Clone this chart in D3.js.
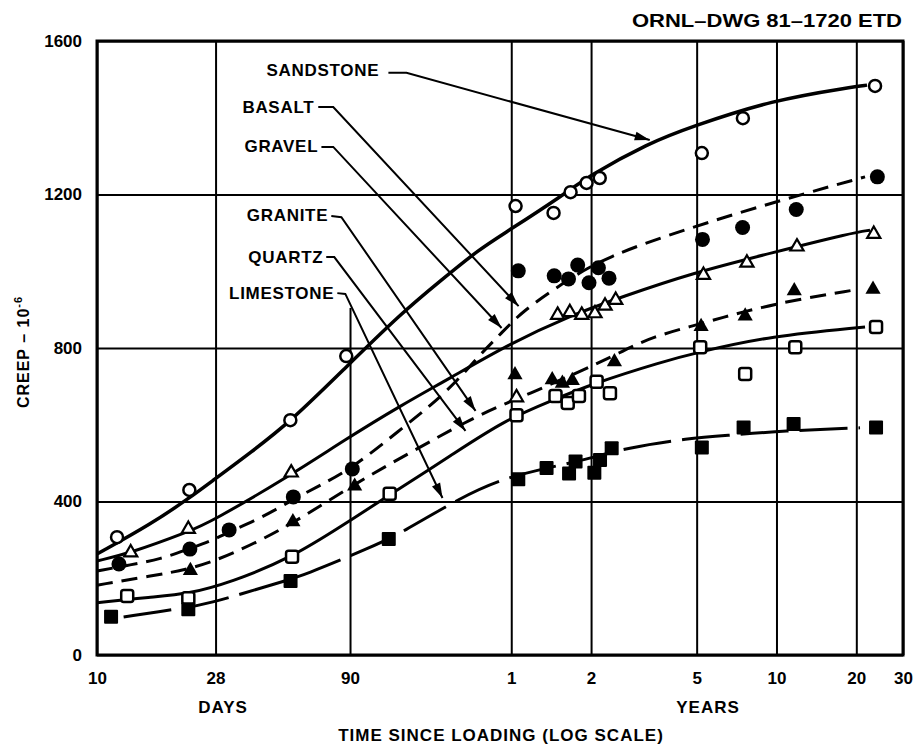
<!DOCTYPE html>
<html>
<head>
<meta charset="utf-8">
<script src="https://cdn.jsdelivr.net/npm/d3@7"></script>
<style>
body { margin: 0; background: #fff; }
text { font-family: "Liberation Sans", Arial, sans-serif; font-weight: bold; fill: #000; }
</style>
</head>
<body>
<script>
var w = 920;
var h = 745;

// time since loading in days, creep in 10^-6
var xTicks = [10, 28, 90, 365, 730, 1826, 3652, 7305, 10957];
var xTickLabels = ['10', '28', '90', '1', '2', '5', '10', '20', '30'];
var yTicks = [0, 400, 800, 1200, 1600];
var partialGridTop = 904; // the 90 day line stops here

// measured points
var sandstonePts = [[11.9,307],[22.3,430],[53.6,612],[87.1,779],[379,1170],[527,1152],[611,1206],[702,1230],[787,1243],[1910,1308],[2728,1399],[8596,1483]];
var basaltPts = [[12.1,237],[22.4,276],[31.5,326],[55,412],[91.8,485],[388,1001],[530,988],[600,980],[650,1016],[717,970],[778,1009],[853,982],[1921,1083],[2721,1114],[4336,1161],[8770,1246]];
var gravelPts = [[13.4,267],[22.1,328],[54,475],[382,671],[546,886],[607,893],[673,886],[755,890],[824,910],[904,925],[1937,990],[2825,1022],[4363,1064],[8500,1097]];
var granitePts = [[22.5,220],[54.8,347],[93.7,440],[377,730],[521,717],[569,708],[620,715],[894,764],[1898,856],[2783,883],[4262,949],[8446,953]];
var quartzPts = [[13,154],[22.1,148],[54.4,256],[127,420],[382,625],[536,675],[596,657],[657,675],[766,712],[860,682],[1883,802],[2783,732],[4299,802],[8670,855]];
var limestonePts = [[11.3,100],[22.1,119],[53.7,193],[126,302],[388,458],[496,487],[603,473],[638,504],[751,475],[789,508],[873,539],[1910,541],[2745,593],[4238,602],[8670,593]];

// fitted curves as drawn
var sandstoneCurve = [[10,263],[16,341],[22.6,412],[26.9,451],[38.2,529],[54,610],[84.9,743],[140.6,891],[199,977],[277,1058],[350,1102],[580,1201],[715,1248],[1204,1334],[1736,1376],[3510,1446],[7038,1480],[8017,1485]];
var basaltCurve = [[10,219],[13.4,235],[17.4,250],[22.1,276],[26.9,297],[31.5,321],[41.6,357],[54.5,404],[72,448],[91.8,487],[140.6,589],[211.6,688],[274.8,779],[335.6,839],[399.3,894],[565.4,967],[821.6,1037],[1751,1115],[3828,1186],[7880,1246]];
var gravelCurve = [[10,245],[13.4,266],[22.1,321],[26.9,347],[54,469],[85.7,560],[140.6,651],[211.6,719],[356.6,810],[616.6,886],[952.6,933],[1751,995],[3510,1048],[7038,1100],[8229,1107]];
var graniteCurve = [[10,182],[16,206],[22.6,224],[32.1,261],[54,339],[93.4,446],[153.4,529],[251.8,612],[335.6,651],[416.9,678],[655.3,737],[952.6,790],[1236,829],[1893,863],[2776,896],[4251,925],[7161,951]];
var quartzCurve = [[10,136],[16,151],[22.1,159],[32.1,190],[54,253],[84.9,339],[128.9,420],[217.3,521],[344.4,612],[527.4,665],[733.9,706],[1349,764],[1877,790],[3450,831],[7880,855]];
var limestoneCurve = [[12.6,99],[20.8,122],[25.4,130],[48.3,188],[60.5,208],[108.3,281],[140.6,318],[237,412],[344.4,461],[496,487],[733.9,513],[977.7,539],[1706,565],[2480,573],[3828,584],[7544,592]];

// labels and their leader arrows
var labelNames = ['SANDSTONE', 'BASALT', 'GRAVEL', 'GRANITE', 'QUARTZ', 'LIMESTONE'];
var labelEnds = [[116,1522],[66,1428],[68.3,1324],[74.5,1144],[71.4,1037],[78.5,943]];
var leaders = [
    [[125.6,1517],[146.9,1517],[1215,1342]],
    [[68.3,1428],[77.8,1428],[389,909]],
    [[70.2,1324],[77.8,1324],[335.6,852]],
    [[76.5,1144],[83.5,1141],[267.7,636]],
    [[73.2,1037],[78.5,1037],[245.3,584]],
    [[80.6,943],[86.4,941],[200.9,409]]
];

var series = [
    {pts: sandstonePts, curve: sandstoneCurve, shape: 'circle', filled: false, width: 3.5, dash: null},
    {pts: basaltPts, curve: basaltCurve, shape: 'circle', filled: true, width: 3, dash: '16,9'},
    {pts: gravelPts, curve: gravelCurve, shape: 'triangle', filled: false, width: 3, dash: null},
    {pts: granitePts, curve: graniteCurve, shape: 'triangle', filled: true, width: 3, dash: '16,9'},
    {pts: quartzPts, curve: quartzCurve, shape: 'square', filled: false, width: 3, dash: null},
    {pts: limestonePts, curve: limestoneCurve, shape: 'square', filled: true, width: 3, dash: '48,11'}
];

var x = d3.scaleLog().domain([10, 10957]).range([97, 903]);
var y = d3.scaleLinear().domain([0, 1600]).range([655, 41]);
var plotH = y(0) - y(1600);
var plotW = x(10957) - x(10);

var svg = d3.select('body').append('svg').attr('width', w).attr('height', h);

// grid + x ticks
var gx = svg.append('g')
    .attr('transform', 'translate(0,' + y(0) + ')')
    .call(d3.axisBottom(x).tickValues(xTicks).tickSize(-plotH).tickPadding(17)
        .tickFormat(function(d, i){ return xTickLabels[i]; }));
gx.select('.domain').remove();
gx.selectAll('.tick line')
    .attr('stroke', '#000').attr('stroke-width', 2)
    .attr('y2', function(d){ return d === 90 ? y(partialGridTop) - y(0) : -plotH; });
gx.selectAll('.tick text').attr('font-size', 17);

// grid + y ticks
var gy = svg.append('g')
    .attr('transform', 'translate(' + x(10) + ',0)')
    .call(d3.axisLeft(y).tickValues(yTicks).tickSize(-plotW).tickPadding(15)
        .tickFormat(d3.format('d')));
gy.select('.domain').remove();
gy.selectAll('.tick line').attr('stroke', '#000').attr('stroke-width', 2);
gy.selectAll('.tick text').attr('font-size', 17);

// frame
svg.append('rect')
    .attr('x', x(10)).attr('y', y(1600))
    .attr('width', plotW).attr('height', plotH)
    .attr('fill', 'none').attr('stroke', '#000').attr('stroke-width', 3);

// curves, smoothed
var line = d3.line()
    .x(function(d){ return x(d[0]); })
    .y(function(d){ return y(d[1]); })
    .curve(d3.curveBasis);

series.forEach(function(s){
    svg.append('path')
        .attr('d', line(s.curve))
        .attr('fill', 'none')
        .attr('stroke', '#000')
        .attr('stroke-width', s.width)
        .attr('stroke-dasharray', s.dash);
});

// markers
series.forEach(function(s){
    var g = svg.append('g');
    if (s.shape === 'circle'){
        g.selectAll('circle').data(s.pts).enter().append('circle')
            .attr('cx', function(d){ return x(d[0]); })
            .attr('cy', function(d){ return y(d[1]); })
            .attr('r', s.filled ? 7.5 : 6)
            .attr('fill', s.filled ? '#000' : '#fff')
            .attr('stroke', '#000')
            .attr('stroke-width', s.filled ? 0 : 2.5);
    }
    else if (s.shape === 'square'){
        var side = s.filled ? 14 : 12;
        g.selectAll('rect').data(s.pts).enter().append('rect')
            .attr('x', function(d){ return x(d[0]) - side / 2; })
            .attr('y', function(d){ return y(d[1]) - side / 2; })
            .attr('width', side).attr('height', side)
            .attr('rx', s.filled ? 1 : 2.5)
            .attr('fill', s.filled ? '#000' : '#fff')
            .attr('stroke', '#000')
            .attr('stroke-width', s.filled ? 0 : 2.5);
    }
    else {
        var sym = d3.symbol().type(d3.symbolTriangle).size(s.filled ? 100 : 75);
        g.selectAll('path').data(s.pts).enter().append('path')
            .attr('d', sym)
            .attr('transform', function(d){ return 'translate(' + x(d[0]) + ',' + y(d[1]) + ')'; })
            .attr('fill', s.filled ? '#000' : '#fff')
            .attr('stroke', '#000')
            .attr('stroke-width', s.filled ? 0 : 2.2);
    }
});

// labels with leader arrows
var leaderLine = d3.line()
    .x(function(d){ return x(d[0]); })
    .y(function(d){ return y(d[1]); });

labelNames.forEach(function(name, i){
    svg.append('text')
        .attr('x', x(labelEnds[i][0]))
        .attr('y', y(labelEnds[i][1]))
        .attr('text-anchor', 'end')
        .attr('dominant-baseline', 'central')
        .attr('font-size', 17)
        .attr('letter-spacing', 0.7)
        .text(name);

    var pts = leaders[i];
    svg.append('path')
        .attr('d', leaderLine(pts))
        .attr('fill', 'none')
        .attr('stroke', '#000')
        .attr('stroke-width', 2);

    // arrow head at the tip
    var a = pts[pts.length - 2], b = pts[pts.length - 1];
    var x1 = x(a[0]), y1 = y(a[1]), x2 = x(b[0]), y2 = y(b[1]);
    var ang = Math.atan2(y2 - y1, x2 - x1);
    var len = 15, half = 4.5;
    var bx = x2 - len * Math.cos(ang), by = y2 - len * Math.sin(ang);
    var head = [
        [x2, y2],
        [bx + half * Math.sin(ang), by - half * Math.cos(ang)],
        [bx - half * Math.sin(ang), by + half * Math.cos(ang)]
    ];
    svg.append('polygon')
        .attr('points', head.map(function(p){ return p.join(','); }).join(' '))
        .attr('fill', '#000');
});

// titles
svg.append('text')
    .attr('x', 902).attr('y', 27)
    .attr('text-anchor', 'end')
    .attr('font-size', 18)
    .attr('textLength', 270)
    .attr('lengthAdjust', 'spacingAndGlyphs')
    .text('ORNL\u2013DWG 81\u20131720 ETD');

svg.append('text')
    .attr('x', 223).attr('y', 713)
    .attr('text-anchor', 'middle')
    .attr('font-size', 17)
    .attr('letter-spacing', 1)
    .text('DAYS');

svg.append('text')
    .attr('x', 708).attr('y', 713)
    .attr('text-anchor', 'middle')
    .attr('font-size', 17)
    .attr('letter-spacing', 1)
    .text('YEARS');

svg.append('text')
    .attr('x', 501).attr('y', 741)
    .attr('text-anchor', 'middle')
    .attr('font-size', 17)
    .attr('letter-spacing', 1)
    .text('TIME SINCE LOADING (LOG SCALE)');

var yt = svg.append('text')
    .attr('transform', 'translate(29,352) rotate(-90)')
    .attr('text-anchor', 'middle')
    .attr('font-size', 16)
    .attr('letter-spacing', 1);
yt.append('tspan').text('CREEP \u2013 10');
yt.append('tspan').attr('dy', -7).attr('font-size', 11).text('-6');
</script>
</body>
</html>
